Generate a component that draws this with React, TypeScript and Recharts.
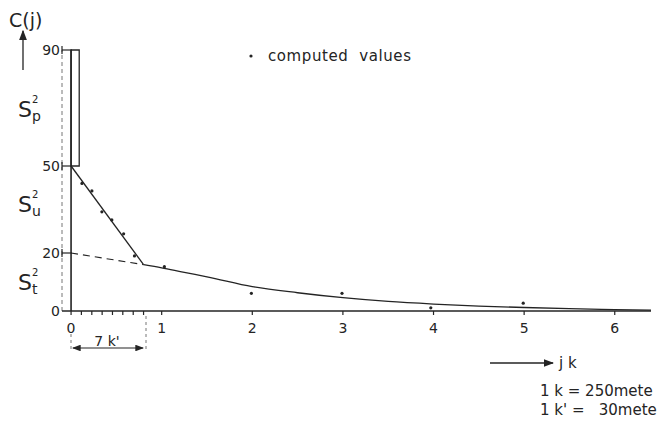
import {
  ComposedChart,
  Line,
  Scatter,
  XAxis,
  YAxis,
  ReferenceLine,
  ReferenceArea,
} from 'recharts'

const ink = '#242424'
const font = '"DejaVu Sans", sans-serif'

// straight part from the nugget value down to the break
const steepLine = [
  { x: 0, y: 50 },
  { x: 0.8, y: 16 },
]

// dashed back-projection of the fitted curve
const dashedLine = [
  { x: 0, y: 20 },
  { x: 0.8, y: 16 },
]

// fitted covariance curve
const curveX = [0.8, 1, 1.25, 1.5, 2, 2.5, 3, 3.5, 4, 4.5, 5, 5.5, 6, 6.4]
const curveY = [16, 14.9, 13.3, 11.8, 8.4, 6.3, 4.6, 3.3, 2.4, 1.7, 1.2, 0.8, 0.5, 0.3]
const curve = curveX.map((x, i) => ({ x, y: curveY[i] }))

// computed values (dots)
const computedX = [0.12, 0.23, 0.34, 0.45, 0.58, 0.7, 1.03, 1.99, 2.99, 3.97, 4.99]
const computedY = [44, 41.4, 34.2, 31.4, 26.6, 19, 15.3, 6.1, 6.1, 1.1, 2.7]
const computed = computedX.map((x, i) => ({ x, y: computedY[i] }))

const majorTicks = [0, 1, 2, 3, 4, 5, 6]
const minorTicks = [0.114, 0.229, 0.343, 0.457, 0.571, 0.686, 0.8]
const yTicks = [0, 20, 50, 90]

const YTick = ({ x, y, payload }: any) => (
  <g>
    <text
      x={x - 2}
      y={y}
      dy={5}
      textAnchor="end"
      fontSize={14}
      fill={ink}
      fontFamily={font}
    >
      {payload.value}
    </text>
    {payload.value !== 0 && (
      <g stroke={ink} strokeWidth={1.2}>
        <line x1={x} x2={x + 10} y1={y} y2={y} />
        <line x1={x} x2={x} y1={y - 4} y2={y + 4} />
      </g>
    )}
  </g>
)

const Dot = ({ cx, cy }: any) => <circle cx={cx} cy={cy} r={1.6} fill={ink} />

const SLabel = ({ x, y, sub }: { x: number; y: number; sub: string }) => (
  <g fontFamily={font} fill={ink}>
    <text x={x} y={y} fontSize={22}>
      S
    </text>
    <text x={x + 14} y={y - 14} fontSize={10}>
      2
    </text>
    <text x={x + 14} y={y + 4} fontSize={14}>
      {sub}
    </text>
  </g>
)

const Annotations = () => (
  <svg
    width={661}
    height={421}
    style={{ position: 'absolute', left: 0, top: 0, pointerEvents: 'none' }}
  >
    <defs>
      <marker id="head" markerWidth="8" markerHeight="6" refX="7" refY="3" orient="auto">
        <path d="M0,0 L8,3 L0,6 Z" fill={ink} />
      </marker>
      <marker id="tail" markerWidth="8" markerHeight="6" refX="1" refY="3" orient="auto">
        <path d="M8,0 L0,3 L8,6 Z" fill={ink} />
      </marker>
    </defs>
    <text x={9} y={27} fontSize={19} fontFamily={font} fill={ink}>
      C(j)
    </text>
    <line x1={23} y1={70} x2={23} y2={31} stroke={ink} strokeWidth={1.3} markerEnd="url(#head)" />

    <SLabel x={18} y={117} sub="p" />
    <SLabel x={18} y={212} sub="u" />
    <SLabel x={18} y={290} sub="t" />

    <circle cx={251} cy={56} r={1.6} fill={ink} />
    <text x={268} y={61} fontSize={15} letterSpacing={0.6} fontFamily={font} fill={ink} xmlSpace="preserve">
      computed  values
    </text>

    <g stroke="#777" strokeWidth={1} strokeDasharray="3 3">
      <line x1={71} y1={334} x2={71} y2={352} />
      <line x1={146} y1={316} x2={146} y2={352} />
    </g>
    <line
      x1={73}
      y1={348}
      x2={143}
      y2={348}
      stroke={ink}
      strokeWidth={1.1}
      markerStart="url(#tail)"
      markerEnd="url(#head)"
    />
    <text x={107} y={346} fontSize={14} fontFamily={font} fill={ink} textAnchor="middle">
      7 k'
    </text>

    <line x1={490} y1={363} x2={553} y2={363} stroke={ink} strokeWidth={1.3} markerEnd="url(#head)" />
    <text x={559} y={368} fontSize={15} fontFamily={font} fill={ink}>
      j k
    </text>
    <text x={540} y={396} fontSize={15} fontFamily={font} fill={ink}>
      1 k = 250mete
    </text>
    <text x={540} y={415} fontSize={15} fontFamily={font} fill={ink} xmlSpace="preserve">
      1 k' =   30mete
    </text>
  </svg>
)

export default function App() {
  return (
    <div style={{ position: 'absolute', left: 0, top: 0, width: 661, height: 421, background: '#fff' }}>
      <ComposedChart
        width={661}
        height={421}
        margin={{ top: 50, right: 10, left: 22, bottom: 80 }}
      >
        <XAxis
          type="number"
          dataKey="x"
          domain={[-0.1, 6.4]}
          ticks={[...majorTicks, ...minorTicks]}
          tickFormatter={(v: number) => (Number.isInteger(v) ? String(v) : '')}
          interval={0}
          allowDataOverflow
          height={30}
          tickSize={4}
          tickMargin={8}
          stroke={ink}
          axisLine={{ stroke: ink, strokeWidth: 1.4 }}
          tickLine={{ stroke: ink, strokeWidth: 1.2 }}
          tick={{ fontSize: 14, fill: ink, fontFamily: font }}
        />
        <YAxis
          type="number"
          dataKey="y"
          domain={[0, 90]}
          ticks={yTicks}
          width={40}
          axisLine={false}
          tickLine={false}
          tickSize={0}
          tickMargin={0}
          tick={<YTick />}
        />
        <ReferenceLine x={-0.1} stroke="#777" strokeWidth={1} strokeDasharray="4 3" />
        <ReferenceLine x={0} stroke={ink} strokeWidth={1.6} />
        <ReferenceArea x1={0} x2={0.09} y1={50} y2={90} fill="none" stroke={ink} strokeWidth={1.3} />
        <Line
          data={steepLine}
          dataKey="y"
          type="linear"
          stroke={ink}
          strokeWidth={1.3}
          dot={false}
          isAnimationActive={false}
        />
        <Line
          data={dashedLine}
          dataKey="y"
          type="linear"
          stroke={ink}
          strokeWidth={1.1}
          strokeDasharray="7 5"
          dot={false}
          isAnimationActive={false}
        />
        <Line
          data={curve}
          dataKey="y"
          type="monotone"
          stroke={ink}
          strokeWidth={1.3}
          dot={false}
          isAnimationActive={false}
        />
        <Scatter data={computed} dataKey="y" shape={<Dot />} isAnimationActive={false} />
      </ComposedChart>
      <Annotations />
    </div>
  )
}
